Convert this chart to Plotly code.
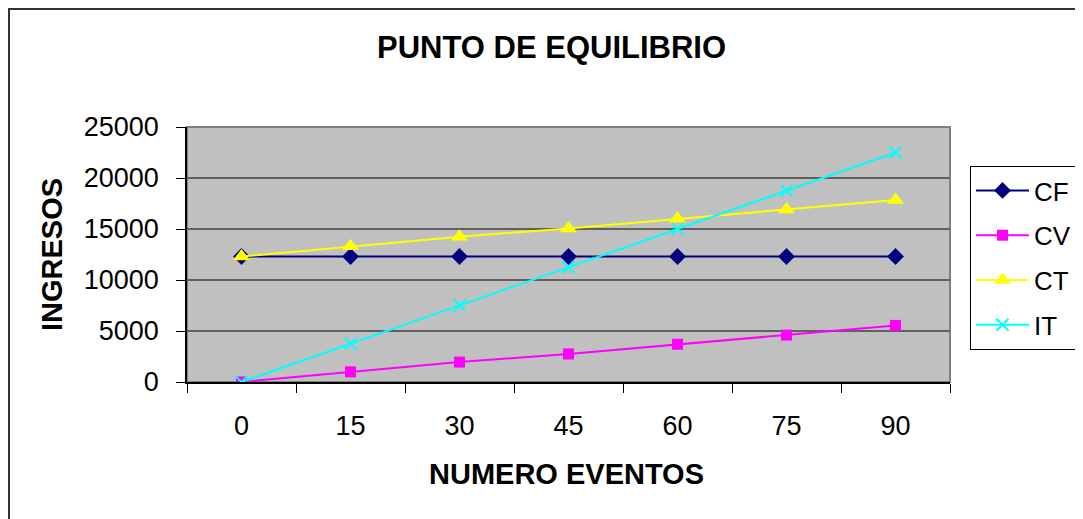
import plotly.graph_objects as go

categories = ["0", "15", "30", "45", "60", "75", "90"]
cf = [12300, 12300, 12300, 12300, 12300, 12300, 12300]
cv = [0, 1000, 1950, 2750, 3700, 4600, 5550]
ct = [12300, 13300, 14250, 15050, 16000, 16900, 17850]
it = [0, 3750, 7500, 11250, 15000, 18750, 22500]

FONT = "Liberation Sans, Arial, sans-serif"
W, H = 1083, 519
OFF = 8  # page body margin
# plot area in screen pixels: x 187..950, y 127..382
L = 187 - OFF
T = 127 - OFF
R = W - (950 - OFF)
B = H - (382 - OFF)
PW, PH = W - L - R, H - T - B

def px(x):
    return (x - OFF - L) / PW

def py(y):
    return (H - B - (y - OFF)) / PH

fig = go.Figure()
fig.add_trace(go.Scatter(x=categories, y=cf, name="CF", mode="lines+markers", legendgroup="a",
                         line=dict(color="#000080", width=2),
                         marker=dict(symbol="diamond", size=13, color="#000080")))
fig.add_trace(go.Scatter(x=categories, y=cv, name="CV", mode="lines+markers", legendgroup="b",
                         line=dict(color="#FF00FF", width=2),
                         marker=dict(symbol="square", size=11, color="#FF00FF")))
fig.add_trace(go.Scatter(x=categories, y=ct, name="CT", mode="lines+markers", legendgroup="c",
                         line=dict(color="#FFFF00", width=2),
                         marker=dict(symbol="triangle-up", size=15, color="#FFFF00")))
fig.add_trace(go.Scatter(x=categories, y=it, name="IT", mode="lines+markers", legendgroup="d",
                         line=dict(color="#00FFFF", width=2),
                         marker=dict(symbol="x-thin", size=12, color="#00FFFF",
                                     line=dict(color="#00FFFF", width=2))))

fig.update_layout(
    width=W, height=H,
    margin=dict(l=L, r=R, t=T, b=B, autoexpand=False),
    paper_bgcolor="white",
    plot_bgcolor="#C0C0C0",
    font=dict(family=FONT, size=27, color="black"),
    showlegend=True,
    legend=dict(x=px(970), y=py(166), xanchor="left", yanchor="top",
                bgcolor="white", bordercolor="black", borderwidth=1,
                font=dict(family=FONT, size=26, color="black"),
                tracegroupgap=8, itemwidth=53),
    xaxis=dict(type="category", categoryorder="array", categoryarray=categories,
               range=[-0.5, 6.5], tickson="boundaries", ticks="outside", ticklen=9,
               tickcolor="black", tickwidth=1, showgrid=False, showline=True,
               linecolor="black", linewidth=1.5, zeroline=False,
               ticklabelstandoff=19, tickfont=dict(size=27)),
    yaxis=dict(range=[0, 25000], dtick=5000, tickformat="d", ticks="outside", ticklen=9,
               tickcolor="black", tickwidth=1, showgrid=True, gridcolor="#606060",
               gridwidth=1.5, showline=True, linecolor="black", linewidth=1.5,
               zeroline=False, ticklabelstandoff=12, tickfont=dict(size=27)),
    shapes=[
        dict(type="rect", xref="paper", yref="paper", x0=0, x1=1, y0=0, y1=1,
             line=dict(color="#808080", width=2), layer="below"),
        dict(type="rect", xref="paper", yref="paper", x0=px(9), x1=px(1100),
             y0=py(540), y1=py(9), line=dict(color="#333333", width=2), layer="below"),
    ],
    annotations=[
        dict(text="<b>PUNTO DE EQUILIBRIO</b>", xref="paper", yref="paper",
             x=px(551), y=py(47), xanchor="center", yanchor="middle", showarrow=False,
             font=dict(family=FONT, size=31, color="black")),
        dict(text="<b>NUMERO EVENTOS</b>", xref="paper", yref="paper",
             x=px(566), y=py(474), xanchor="center", yanchor="middle", showarrow=False,
             font=dict(family=FONT, size=29, color="black")),
        dict(text="<b>INGRESOS</b>", xref="paper", yref="paper",
             x=px(52), y=py(255), xanchor="center", yanchor="middle", showarrow=False,
             textangle=-90, font=dict(family=FONT, size=29, color="black")),
    ],
)

fig.write_html("out.html")
